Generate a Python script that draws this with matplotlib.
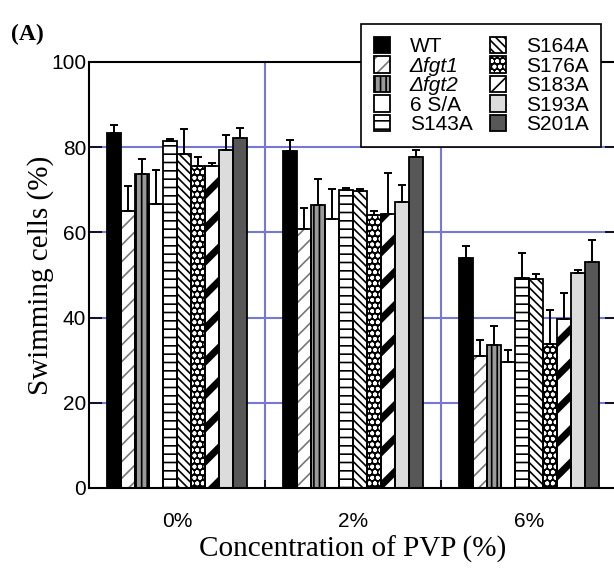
import matplotlib
matplotlib.use('Agg')
import matplotlib.pyplot as plt
import numpy as np
from matplotlib.patches import Patch

plt.rcParams['font.family'] = ['Liberation Sans', 'DejaVu Sans']
plt.rcParams['hatch.linewidth'] = 1.2

# ---------------------------
# data
# ---------------------------
concs = ['0%', '2%', '6%']
strains = ['WT', 'Δfgt1', 'Δfgt2', '6 S/A', 'S143A',
           'S164A', 'S176A', 'S183A', 'S193A', 'S201A']

wt    = [83.3, 79.1, 53.9]
fgt1  = [64.9, 60.8, 31.0]
fgt2  = [73.6, 66.4, 33.6]
s6a   = [66.7, 63.1, 29.5]
s143a = [81.4, 70.0, 49.3]
s164a = [78.4, 69.6, 49.1]
s176a = [75.6, 64.1, 33.9]
s183a = [75.6, 64.4, 39.7]
s193a = [79.3, 67.1, 50.5]
s201a = [82.1, 77.6, 53.0]

wt_err    = [1.8, 2.6, 2.9]
fgt1_err  = [6.0, 5.0, 3.7]
fgt2_err  = [3.6, 6.1, 4.4]
s6a_err   = [7.9, 7.0, 2.8]
s143a_err = [0.4, 0.4, 5.9]
s164a_err = [5.8, 0.5, 1.1]
s176a_err = [2.0, 0.8, 7.9]
s183a_err = [0.6, 9.5, 6.1]
s193a_err = [3.5, 4.0, 0.7]
s201a_err = [2.3, 1.7, 5.2]

means = [wt, fgt1, fgt2, s6a, s143a, s164a, s176a, s183a, s193a, s201a]
errs = [wt_err, fgt1_err, fgt2_err, s6a_err, s143a_err, s164a_err,
        s176a_err, s183a_err, s193a_err, s201a_err]

# face, hatch, hatch colour, hatch width (bars), hatch + width for the legend box
styles = [
    ('black', None, 'black', 1.2, None, 1.2),
    ('white', '//', '#777777', 1.2, '//', 1.2),
    ('#9a9a9a', '|||', 'black', 1.2, '|||', 1.2),
    ('white', None, 'black', 1.2, None, 1.2),
    ('white', '--', 'black', 1.2, '--', 1.2),
    ('white', '\\\\\\\\', 'black', 1.2, '\\\\\\\\', 1.2),
    ('black', 'ooo', 'white', 1.2, 'ooo', 1.2),
    ('white', '/', 'black', 5.0, '//', 3.0),
    ('#dcdcdc', None, 'black', 1.2, None, 1.2),
    ('#575757', None, 'black', 1.2, None, 1.2),
]

fig = plt.figure(figsize=(6.14, 5.72), dpi=100)
ax = fig.add_axes([0.145, 0.1469, 0.86, 0.7448])

gridc = '#7777d6'
ax.set_axisbelow(True)
for yv in [20, 40, 60, 80]:
    ax.axhline(yv, color=gridc, lw=1.5, zorder=0)
for xv in [1, 2]:
    ax.axvline(xv, color=gridc, lw=1.5, zorder=0)

centers = np.arange(len(concs)) + 0.5
w = 0.08
handles = []
for i in range(len(strains)):
    face, hatch, hc, hw, lhatch, lhw = styles[i]
    xs = centers + (i - 4.5) * w
    fill = ax.bar(xs, means[i], w, color=face, hatch=hatch, edgecolor=hc,
                  linewidth=0, zorder=2)
    for p in fill:
        if hasattr(p, 'set_hatch_linewidth'):
            p.set_hatch_linewidth(hw)
    ax.bar(xs, means[i], w, facecolor='none', edgecolor='black', linewidth=1.3, zorder=3)
    ax.errorbar(xs, means[i], yerr=[np.zeros(3), errs[i]], fmt='none', ecolor='black',
                elinewidth=1.4, capsize=2.6, capthick=1.4, zorder=4)
    ph = Patch(facecolor=face, hatch=lhatch, edgecolor=hc, linewidth=0)
    if hasattr(ph, 'set_hatch_linewidth'):
        ph.set_hatch_linewidth(lhw)
    po = Patch(facecolor='none', edgecolor='black', linewidth=1.3)
    handles.append((ph, po))

ax.set_xlim(0, 3)
ax.set_ylim(0, 100)
ax.set_yticks([0, 20, 40, 60, 80, 100])
ax.set_xticks(centers)
ax.set_xticklabels(concs)
ax.set_xticks([1, 2], minor=True)
ax.tick_params(axis='x', which='major', length=0, labelsize=15, pad=17)
ax.tick_params(axis='x', which='minor', direction='in', length=6, width=1.2)
ax.tick_params(axis='y', direction='in', length=9, width=1.2, labelsize=15,
               right=True, pad=2)
for s in ax.spines.values():
    s.set_linewidth(1.5)

ax.set_ylabel('Swimming cells (%)', family='Liberation Serif', fontsize=21, labelpad=-2)
ax.set_xlabel('Concentration of PVP (%)', family='Liberation Serif', fontsize=21, labelpad=4)

fig.text(0.018, 0.93, '(A)', family='Liberation Serif', weight='bold', fontsize=17)

leg = fig.legend(handles, strains, loc='upper left', bbox_to_anchor=(0.588, 0.958),
                 ncol=2, fontsize=15, frameon=True, fancybox=False, framealpha=1,
                 edgecolor='black', handlelength=0.78, handleheight=0.85,
                 handletextpad=0.95, columnspacing=0.85, labelspacing=0.0,
                 borderpad=0.6, borderaxespad=0)
leg.get_frame().set_linewidth(1.2)
leg.set_zorder(10)
for t in leg.get_texts()[1:3]:
    t.set_fontstyle('italic')

fig.savefig('out.png', dpi=100)
